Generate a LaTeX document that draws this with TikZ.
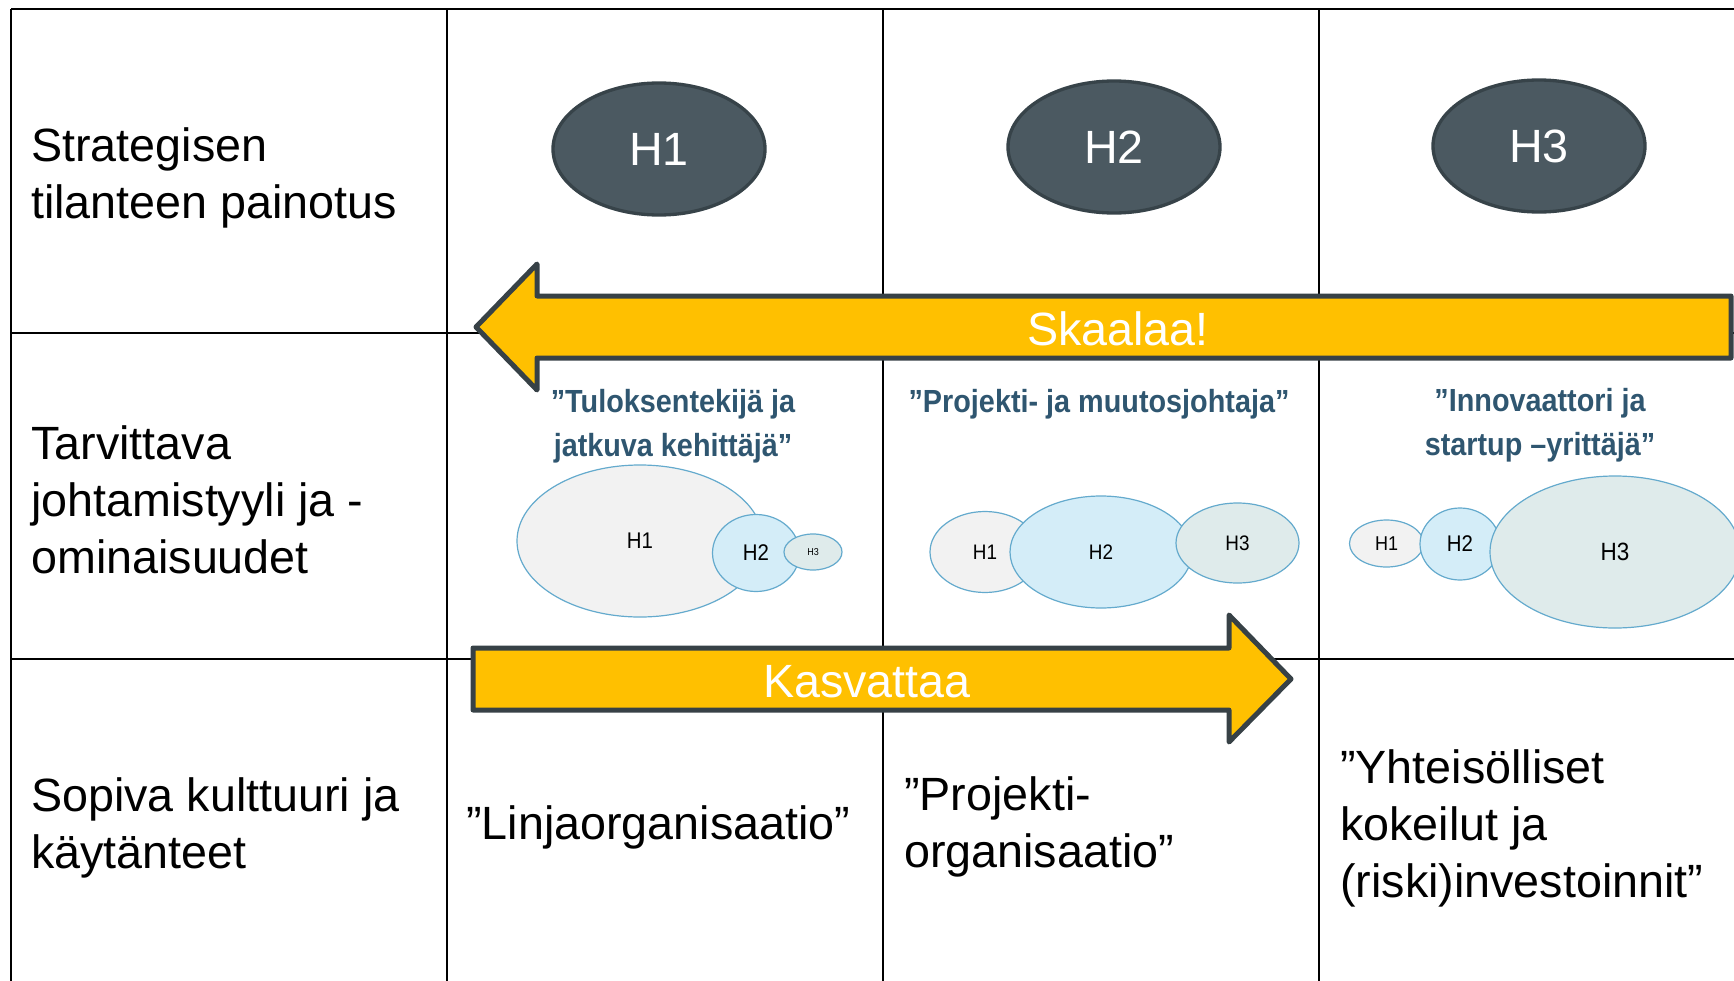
\documentclass[tikz,border=0pt]{standalone}
\usepackage{fontspec}
\setmainfont{Liberation Sans}
\newfontfamily\quotefont[FakeStretch=0.9]{Liberation Sans}
\usetikzlibrary{shapes.geometric}

\begin{document}
\begin{tikzpicture}[x=0.75pt,y=0.75pt,yscale=-1,xscale=1,
  grid/.style={line width=1.9pt},
  lbl/.style={anchor=base west,inner sep=0pt,align=left,font=\fontsize{35}{42.75}\selectfont},
  horizon/.style={ellipse,draw={rgb, 255:red, 55; green, 67; blue, 73 },line width=2.5pt,fill={rgb, 255:red, 75; green, 89; blue, 97 },text=white,inner sep=0pt,minimum width=159pt,minimum height=99pt,font=\fontsize{35}{42}\selectfont},
  bubble/.style={ellipse,draw={rgb, 255:red, 100; green, 170; blue, 205 },line width=0.9pt,inner sep=0pt,font=\quotefont},
  hgray/.style={fill={rgb, 255:red, 242; green, 242; blue, 242 }},
  hblue/.style={fill={rgb, 255:red, 212; green, 237; blue, 248 }},
  hmint/.style={fill={rgb, 255:red, 223; green, 235; blue, 235 }},
  quote/.style={anchor=base,inner sep=0pt,align=center,text={rgb, 255:red, 47; green, 86; blue, 112 },font=\quotefont\bfseries\fontsize{24}{33}\selectfont},
  bigarrow/.style={fill={rgb, 255:red, 255; green, 192; blue, 0 },draw={rgb, 255:red, 55; green, 65; blue, 70 },line width=3.75pt,line join=round},
  arrowtext/.style={anchor=base,inner sep=0pt,text=white,font=\fontsize{35}{42}\selectfont}]

\useasboundingbox (0,0) rectangle (1734,981);

%Shape: Table grid
\draw [grid] (11,9) -- (1734,9) ;
\draw [grid] (11,333) -- (1734,333) ;
\draw [grid] (11,659) -- (1734,659) ;
\draw [grid] (11,9) -- (11,981) ;
\draw [grid] (447,9) -- (447,981) ;
\draw [grid] (883,9) -- (883,981) ;
\draw [grid] (1319,9) -- (1319,981) ;

% Text Node
\node [lbl] (strat) at (31,218) {Strategisen\\tilanteen painotus};
% Text Node
\node [lbl] (style) at (31,573) {Tarvittava\\johtamistyyli ja -\\ominaisuudet};
% Text Node
\node [lbl] (culture) at (31,868) {Sopiva kulttuuri ja\\käytänteet};

%Shape: Ellipse
\node [horizon] (topH1) at (659,149) {H1};
%Shape: Ellipse
\node [horizon] (topH2) at (1114,147) {H2};
%Shape: Ellipse
\node [horizon] (topH3) at (1539,146) {H3};

% Text Node
\node [quote] (leadA) at (673,456) {”Tuloksentekijä ja\\jatkuva kehittäjä”};
% Text Node
\node [quote] (leadB) at (1099,412) {”Projekti- ja muutosjohtaja”};
% Text Node
\node [quote] (leadC) at (1540,455) {”Innovaattori ja\\startup –yrittäjä”};

%Shape: Bubbles, first column
\node [bubble,hgray,minimum width=184.5pt,minimum height=114pt,font=\quotefont\fontsize{17}{20}\selectfont] (aH1) at (640,541) {H1};
\node [bubble,hblue,minimum width=65.25pt,minimum height=57.75pt,font=\quotefont\fontsize{17}{20}\selectfont] (aH2) at (756,553) {H2};
\node [bubble,hmint,minimum width=43.5pt,minimum height=27pt,font=\quotefont\fontsize{7.5}{9}\selectfont] (aH3) at (813,552) {H3};

%Shape: Bubbles, second column
\node [bubble,hgray,minimum width=82.5pt,minimum height=60.75pt,font=\quotefont\fontsize{15.75}{19}\selectfont] (bH1) at (985,552) {H1};
\node [bubble,hblue,minimum width=136.5pt,minimum height=84pt,font=\quotefont\fontsize{15.75}{19}\selectfont] (bH2) at (1101,552) {H2};
\node [bubble,hmint,minimum width=92.25pt,minimum height=60pt,font=\quotefont\fontsize{15.75}{19}\selectfont] (bH3) at (1237.5,543) {H3};

%Shape: Bubbles, third column
\node [bubble,hgray,minimum width=55.5pt,minimum height=35.25pt,font=\quotefont\fontsize{15}{18}\selectfont] (cH1) at (1386.5,543.5) {H1};
\node [bubble,hblue,minimum width=60pt,minimum height=54pt,font=\quotefont\fontsize{17}{20}\selectfont] (cH2) at (1460,544) {H2};
\node [bubble,hmint,minimum width=187.5pt,minimum height=114pt,font=\quotefont\fontsize{18.75}{22}\selectfont] (cH3) at (1615,552) {H3};

%Shape: Left Arrow
\draw [bigarrow] (1731,296) -- (537,296) -- (537,264) -- (476,327) -- (537,390) -- (537,358) -- (1731,358) -- cycle ;
% Text Node
\node [arrowtext] (scale) at (1118,345) {Skaalaa!};

%Shape: Right Arrow
\draw [bigarrow] (473,648) -- (1229,648) -- (1229,615) -- (1291,679) -- (1229,742) -- (1229,710) -- (473,710) -- cycle ;
% Text Node
\node [arrowtext] (grow) at (867,697) {Kasvattaa};

% Text Node
\node [lbl] (lineorg) at (466,839) {”Linjaorganisaatio”};
% Text Node
\node [lbl] (projorg) at (904,867) {”Projekti-\\organisaatio”};
% Text Node
\node [lbl] (commun) at (1340,897) {”Yhteisölliset\\kokeilut ja\\(riski)investoinnit”};

\end{tikzpicture}
\end{document}
